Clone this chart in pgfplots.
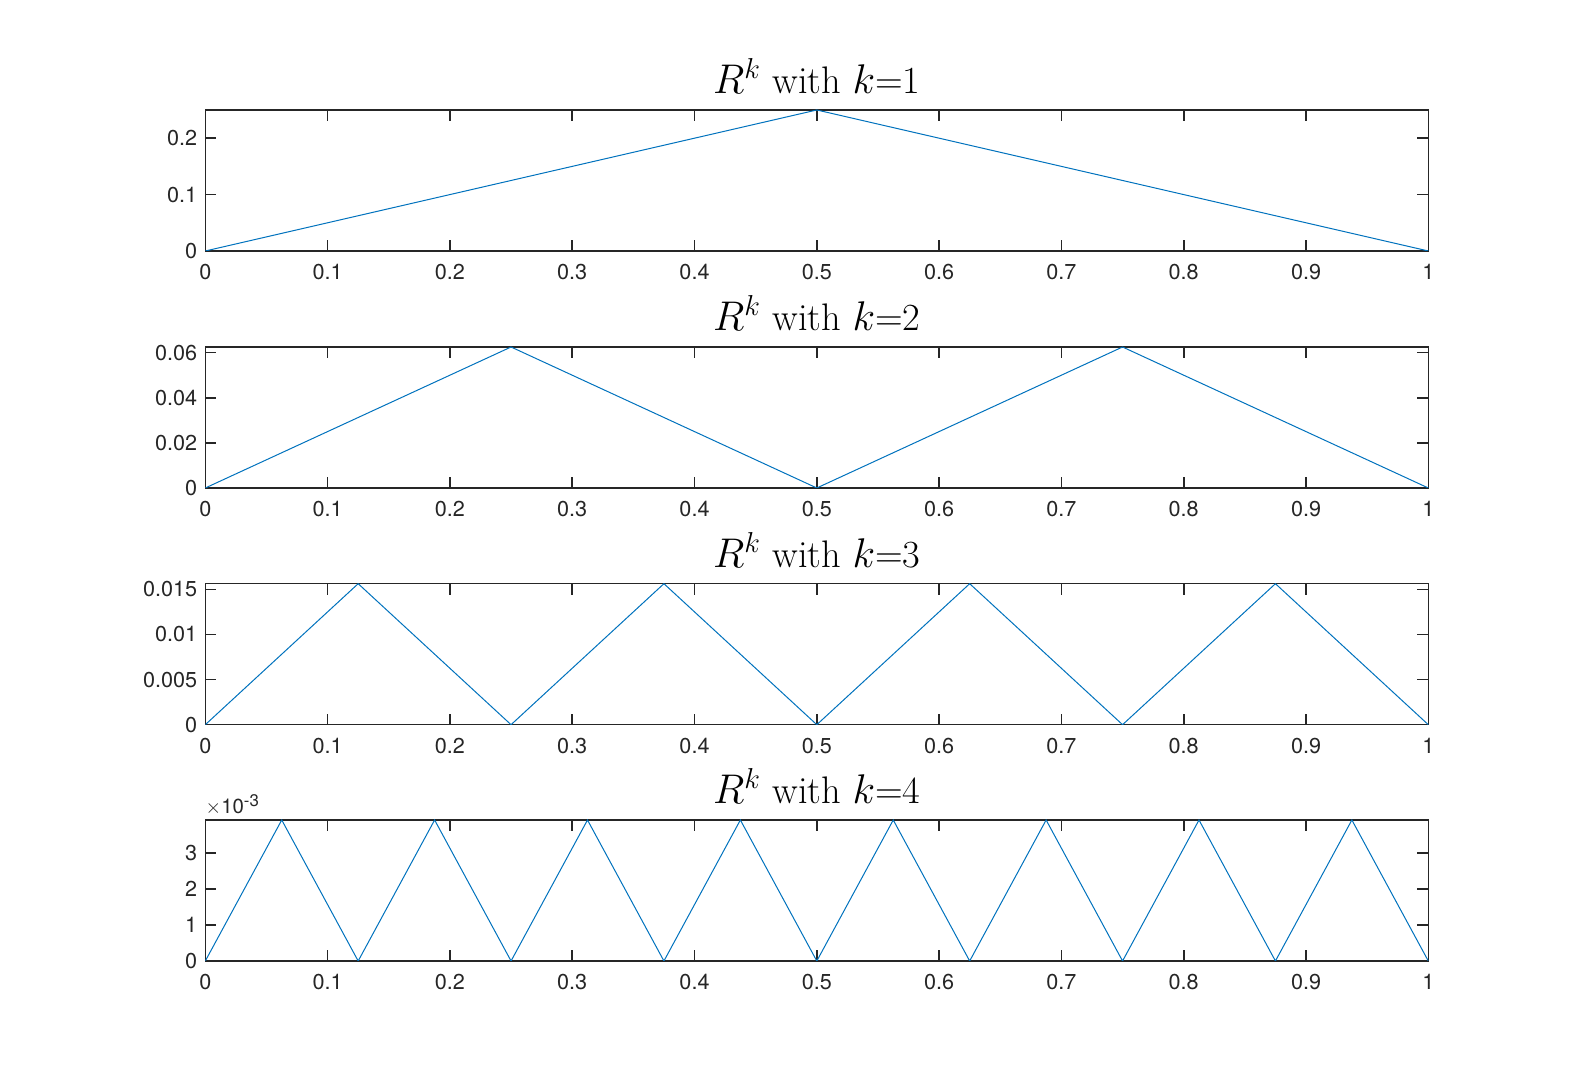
\documentclass[border=0pt]{standalone}
\usepackage{fontspec}
\usepackage{pgfplots}
\pgfplotsset{compat=1.18}
\newfontfamily\helv{TeX Gyre Heros}
\definecolor{mblue}{RGB}{0,114,189}
\definecolor{axgray}{RGB}{38,38,38}
\pgfplotsset{
  rk/.style={
    scale only axis,
    width=611.5pt, height=70.5pt,
    xmin=0, xmax=1, ymin=0,
    scaled y ticks=false,
    clip mode=individual,
    axis line style={axgray, line width=0.8pt},
    every tick/.style={axgray, line width=0.8pt},
    major tick length=5.5pt,
    tick align=inside,
    tick pos=both,
    xtick={0,0.1,0.2,0.3,0.4,0.5,0.6,0.7,0.8,0.9,1},
    xticklabels={0,0.1,0.2,0.3,0.4,0.5,0.6,0.7,0.8,0.9,1},
    tick label style={font=\helv\fontsize{10.8}{12}\selectfont, text=axgray},
    xticklabel style={yshift=-3.3pt},
    yticklabel style={xshift=-0.5pt},
    title style={font=\fontsize{19.2}{22}\selectfont, at={(0.5,1)}, anchor=base, yshift=2.2pt},
  }
}
\begin{document}
\begin{tikzpicture}
\path (0,0) rectangle (789pt,540pt);

\begin{axis}[rk, at={(102.65pt,414.5pt)}, anchor=south west,
  ymax=0.25, ytick={0,0.1,0.2}, yticklabels={0,0.1,0.2},
  title={$R^k$ with $k$=1}]
\addplot[mblue, line width=0.5pt, no marks] coordinates {(0,0) (0.5,0.25) (1,0)};
\end{axis}

\begin{axis}[rk, at={(102.65pt,296pt)}, anchor=south west,
  ymax=0.0625, ytick={0,0.02,0.04,0.06}, yticklabels={0,0.02,0.04,0.06},
  title={$R^k$ with $k$=2}]
\addplot[mblue, line width=0.5pt, no marks] coordinates {(0,0) (0.25,0.0625) (0.5,0) (0.75,0.0625) (1,0)};
\end{axis}

\begin{axis}[rk, at={(102.65pt,177.65pt)}, anchor=south west,
  ymax=0.015625, ytick={0,0.005,0.01,0.015}, yticklabels={0,0.005,0.01,0.015},
  title={$R^k$ with $k$=3}]
\addplot[mblue, line width=0.5pt, no marks] coordinates {(0,0) (0.125,0.015625) (0.25,0) (0.375,0.015625) (0.5,0)
  (0.625,0.015625) (0.75,0) (0.875,0.015625) (1,0)};
\end{axis}

\begin{axis}[rk, at={(102.65pt,59.5pt)}, anchor=south west,
  ymax=0.00390625, ytick={0,0.001,0.002,0.003}, yticklabels={0,1,2,3},
  title={$R^k$ with $k$=4}]
\addplot[mblue, line width=0.5pt, no marks] coordinates {(0,0) (0.0625,0.00390625) (0.125,0) (0.1875,0.00390625)
  (0.25,0) (0.3125,0.00390625) (0.375,0) (0.4375,0.00390625) (0.5,0)
  (0.5625,0.00390625) (0.625,0) (0.6875,0.00390625) (0.75,0)
  (0.8125,0.00390625) (0.875,0) (0.9375,0.00390625) (1,0)};
\node[anchor=base west, inner sep=0pt, text=axgray,
  font=\helv\fontsize{10.2}{11}\selectfont]
  at (rel axis cs:0,1) [yshift=3.3pt] {$\times$10\raisebox{0.6ex}{\fontsize{8.4}{9}\selectfont -3}};
\end{axis}
\end{tikzpicture}
\end{document}
